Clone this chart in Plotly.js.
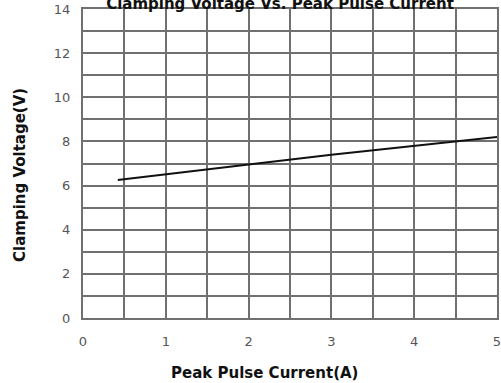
<!DOCTYPE html>
<html>
<head>
<meta charset="utf-8">
<script src="https://cdn.plot.ly/plotly-3.0.1.min.js"></script>
<style>html,body{margin:0;padding:0;background:#fff;}#chart{width:501px;height:383px;}</style>
</head>
<body>
<div id="chart"></div>
<script>
// Data
const current = [0.42, 1, 2, 3, 4, 5];            // Peak Pulse Current (A)
const clampVoltage = [6.25, 6.5, 6.95, 7.4, 7.8, 8.2]; // Clamping Voltage (V)
const xTicks = [0, 1, 2, 3, 4, 5];
const yTicks = [0, 2, 4, 6, 8, 10, 12, 14];
const chartTitle = "Clamping Voltage Vs. Peak Pulse Current";
const xTitle = "Peak Pulse Current(A)";
const yTitle = "Clamping Voltage(V)";

const gridColor = "#707070";
const W = 501, H = 383;
const L = 83, R = 4, T = 9, B = 65;
const pw = W - L - R, ph = H - T - B;

const trace = {
  x: current, y: clampVoltage, type: "scatter", mode: "lines",
  line: {color: "#111", width: 2}, hoverinfo: "skip", showlegend: false
};

const layout = {
  width: W, height: H,
  margin: {l: L, r: R, t: T, b: B, pad: 0},
  paper_bgcolor: "#fff", plot_bgcolor: "#fff",
  font: {family: "DejaVu Sans, sans-serif", color: "#555", size: 13},
  title: {
    text: chartTitle, xref: "container", yref: "container",
    x: 280 / W, xanchor: "center", y: 1 - 9 / H, yanchor: "bottom",
    font: {family: "DejaVu Sans, sans-serif", size: 15, color: "#111", weight: "bold"}
  },
  xaxis: {
    range: [0, 5], tickvals: xTicks, ticktext: xTicks.map(String),
    showgrid: true, gridcolor: gridColor, gridwidth: 2,
    minor: {dtick: 0.5, showgrid: true, gridcolor: gridColor, gridwidth: 2},
    showline: true, linecolor: gridColor, linewidth: 2, mirror: true,
    zeroline: false, ticks: "", ticklabelstandoff: 10, ticklabeloverflow: "allow",
    tickfont: {family: "DejaVu Sans, sans-serif", size: 13, color: "#555"},
    fixedrange: true
  },
  yaxis: {
    range: [0, 14], tickvals: yTicks, ticktext: yTicks.map(String),
    showgrid: true, gridcolor: gridColor, gridwidth: 2,
    minor: {dtick: 1, showgrid: true, gridcolor: gridColor, gridwidth: 2},
    showline: true, linecolor: gridColor, linewidth: 2, mirror: true,
    zeroline: false, ticks: "", ticklabelstandoff: 8, ticklabeloverflow: "allow",
    tickfont: {family: "DejaVu Sans, sans-serif", size: 13, color: "#555"},
    fixedrange: true
  },
  annotations: [
    {
      text: yTitle, xref: "paper", yref: "paper",
      x: (20 - L) / pw, y: (T + ph - 175) / ph,
      xanchor: "center", yanchor: "middle", textangle: -90, showarrow: false,
      font: {family: "DejaVu Sans, sans-serif", size: 15, color: "#111", weight: "bold"}
    },
    {
      text: xTitle, xref: "paper", yref: "paper",
      x: (264.5 - L) / pw, y: (T + ph - 373) / ph,
      xanchor: "center", yanchor: "middle", showarrow: false,
      font: {family: "DejaVu Sans, sans-serif", size: 15, color: "#111", weight: "bold"}
    }
  ]
};

Plotly.newPlot("chart", [trace], layout, {staticPlot: true, displayModeBar: false});
</script>
</body>
</html>
